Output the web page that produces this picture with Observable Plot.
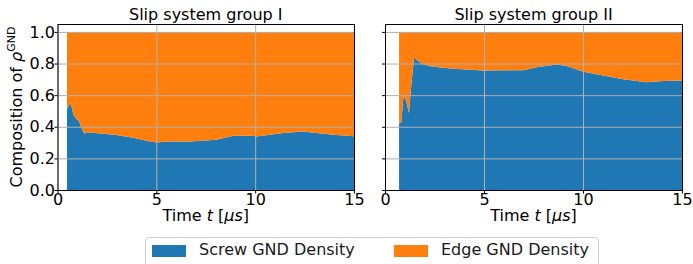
<!DOCTYPE html>
<html>
<head>
<meta charset="utf-8">
<script src="https://cdn.jsdelivr.net/npm/d3@7"></script>
<script src="https://cdn.jsdelivr.net/npm/@observablehq/plot@0.6"></script>
<style>
  html, body { margin: 0; padding: 0; background: white; }
  #wrap { position: relative; width: 693px; height: 264px; overflow: hidden; font-family: "DejaVu Sans", sans-serif; }
  #wrap svg { position: absolute; top: 0; background: transparent; }
  #legend { position: absolute; left: 145px; top: 237px; width: 454px; height: 40px; border: 1px solid #d0d0d0; border-radius: 4px; box-sizing: border-box; font-size: 16px; color: #1a1a1a; }
  .sw { position: absolute; top: 7px; width: 34px; height: 12px; }
  .lt { position: absolute; top: 1px; line-height: 22px; white-space: nowrap; }
</style>
</head>
<body>
<div id="wrap"><div id="legend"></div></div>
<script>
const titles = ["Slip system group I", "Slip system group II"];
const seriesNames = ["Screw GND Density", "Edge GND Density"];
const colors = ["#1f77b4", "#ff7f0e"];
const xTicks = [0, 5, 10, 15];
const yTicks = [0, 0.2, 0.4, 0.6, 0.8, 1.0];

const leftTime  = [0.48, 0.63, 0.72, 0.80, 0.92, 1.09, 1.22, 1.36, 1.47, 1.90, 2.90, 3.83, 4.68, 5.02, 5.52, 6.70, 8.05, 8.89, 9.74, 10.07, 11.42, 12.43, 13.11, 13.95, 15.0];
const leftScrew = [0.51, 0.55, 0.525, 0.476, 0.455, 0.434, 0.39, 0.354, 0.366, 0.36, 0.349, 0.33, 0.307, 0.30, 0.307, 0.307, 0.318, 0.343, 0.343, 0.339, 0.36, 0.37, 0.36, 0.35, 0.34];

const rightTime  = [0.71, 0.82, 0.94, 1.08, 1.21, 1.33, 1.47, 1.59, 1.84, 2.26, 2.93, 3.45, 4.97, 6.99, 7.66, 8.67, 9.18, 10.02, 11.03, 12.04, 13.22, 14.06, 15.0];
const rightScrew = [0.42, 0.427, 0.60, 0.56, 0.487, 0.667, 0.836, 0.825, 0.798, 0.783, 0.773, 0.767, 0.756, 0.758, 0.777, 0.794, 0.784, 0.748, 0.725, 0.70, 0.682, 0.689, 0.693];

function rows(times, screw) {
  const out = [];
  times.forEach((t, i) => out.push({t, v: screw[i], s: seriesNames[0]}));
  times.forEach((t, i) => out.push({t, v: 1 - screw[i], s: seriesNames[1]}));
  return out;
}

function panel(times, screw, title, left, width, mLeft, mRight, showY) {
  const data = rows(times, screw);
  const svg = Plot.plot({
    width, height: 230,
    marginLeft: mLeft, marginRight: mRight, marginTop: 24, marginBottom: 40,
    style: {fontFamily: "DejaVu Sans, sans-serif", fontSize: "16px", background: "transparent", color: "black", overflow: "visible"},
    x: {domain: [0, 15]},
    y: {domain: [0, 1.05]},
    color: {domain: seriesNames, range: colors},
    marks: [
      Plot.areaY(data, {x: "t", y: "v", fill: "s", z: "s", order: seriesNames, curve: "linear"}),
      Plot.gridX(xTicks, {stroke: "#b0b0b0", strokeOpacity: 1, strokeWidth: 1}),
      Plot.gridY(yTicks, {stroke: "#b0b0b0", strokeOpacity: 1, strokeWidth: 1}),
      Plot.axisX(xTicks, {tickSize: 3.5, tickPadding: 0, label: null, fontSize: 16, tickFormat: d3.format("d")}),
      Plot.axisY(yTicks, {tickSize: 3, tickPadding: 0, label: null, fontSize: 16, tickFormat: showY ? d3.format(".1f") : () => ""}),
      Plot.frame({stroke: "black", strokeWidth: 1})
    ]
  });
  svg.style.left = left + "px";
  const s = d3.select(svg);
  const cx = mLeft + (width - mLeft - mRight) / 2;
  s.append("text").attr("x", cx).attr("y", 19.5).attr("text-anchor", "middle")
    .attr("font-size", 16).attr("fill", "black").text(title);
  const xl = s.append("text").attr("x", cx).attr("y", 221).attr("text-anchor", "middle")
    .attr("font-size", 16).attr("fill", "black");
  xl.append("tspan").text("Time ");
  xl.append("tspan").attr("font-style", "italic").text("t");
  xl.append("tspan").text(" [");
  xl.append("tspan").attr("font-style", "italic").text("\u03bcs");
  xl.append("tspan").text("]");
  if (showY) {
    const yl = s.append("text").attr("transform", `translate(22,107) rotate(-90)`)
      .attr("text-anchor", "middle").attr("font-size", 16).attr("fill", "black");
    yl.append("tspan").text("Composition of ");
    yl.append("tspan").attr("font-style", "italic").text("\u03c1");
    yl.append("tspan").attr("font-size", 11).attr("dy", -7).text("GND");
  }
  document.getElementById("wrap").appendChild(svg);
}

panel(leftTime, leftScrew, titles[0], 0, 372, 57.5, 18, true);
panel(rightTime, rightScrew, titles[1], 362, 331, 23, 11, false);

const lg = document.getElementById("legend");
const pos = [[6, 53], [248, 295]];
seriesNames.forEach((n, i) => {
  const sw = document.createElement("div");
  sw.className = "sw"; sw.style.left = pos[i][0] + "px"; sw.style.background = colors[i];
  const tx = document.createElement("div");
  tx.className = "lt"; tx.style.left = pos[i][1] + "px"; tx.textContent = n;
  lg.appendChild(sw); lg.appendChild(tx);
});
</script>
</body>
</html>
